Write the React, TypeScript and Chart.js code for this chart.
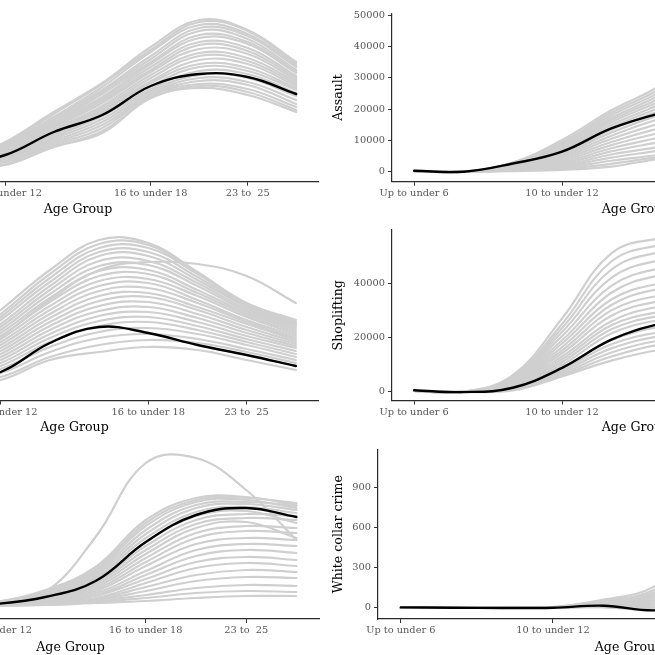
import React, { useEffect, useRef } from "react";
import { Chart, registerables } from "chart.js";

Chart.register(...registerables);

// ---------- categories ----------
const AGE_GROUPS = [
  "Up to under 6",
  "6 to under 8",
  "8 to under 10",
  "10 to under 12",
  "12 to under 14",
  "14 to under 16",
  "16 to under 18",
  "18 to under 21",
  "23 to  25",
  "25 to under 30",
];
const SHOWN_TICKS = [0, 3, 6, 8];

// ---------- top-left panel (y axis cut off) ----------
const TL_MEAN = [0, 2, 7, 17, 40, 57, 86, 98, 95, 78];
const TL_STATES = [
  [0, 2, 9, 30, 60, 89, 125, 152, 142, 110],
  [0, 2, 8, 28, 58, 88, 122, 150, 141, 108],
  [0, 2, 8, 27, 55, 85, 120, 147, 138, 106],
  [0, 2, 8, 26, 54, 82, 116, 144, 136, 105],
  [0, 2, 7, 25, 52, 80, 113, 141, 133, 102],
  [0, 2, 7, 24, 50, 78, 110, 137, 130, 100],
  [0, 2, 7, 23, 49, 75, 108, 134, 128, 99],
  [0, 2, 7, 22, 47, 73, 105, 130, 124, 96],
  [0, 2, 6, 21, 46, 71, 102, 127, 121, 94],
  [0, 2, 6, 21, 45, 69, 100, 123, 118, 92],
  [0, 1, 6, 20, 43, 66, 97, 119, 114, 90],
  [0, 1, 6, 19, 42, 64, 94, 116, 111, 88],
  [0, 1, 5, 18, 40, 62, 91, 112, 108, 86],
  [0, 1, 5, 17, 38, 60, 89, 108, 104, 84],
  [0, 1, 5, 16, 37, 58, 86, 105, 101, 82],
  [0, 1, 5, 15, 35, 56, 83, 101, 98, 79],
  [0, 1, 4, 14, 33, 53, 81, 97, 94, 76],
  [0, 1, 4, 13, 31, 50, 79, 94, 90, 72],
  [0, 1, 4, 11, 29, 47, 77, 91, 87, 68],
  [0, 1, 4, 10, 27, 44, 76, 88, 83, 65],
  [0, 1, 3, 8, 25, 41, 74, 86, 80, 62],
  [0, 1, 3, 7, 25, 39, 74, 84, 77, 60],
];

// ---------- middle-left panel ----------
const ML_MEAN = [2, 5, 10, 20, 49, 65, 59, 47, 37, 26];
const ML_STATES = [
  [3, 15, 45, 82, 122, 152, 149, 120, 89, 72],
  [3, 14, 42, 78, 118, 148, 147, 119, 88, 70],
  [3, 13, 40, 75, 114, 144, 144, 118, 88, 70],
  [3, 12, 38, 72, 110, 140, 140, 115, 86, 68],
  [2, 12, 36, 68, 106, 136, 136, 112, 85, 67],
  [2, 11, 34, 65, 102, 131, 131, 109, 83, 66],
  [2, 10, 32, 62, 98, 126, 127, 106, 81, 64],
  [2, 10, 30, 59, 94, 121, 122, 102, 79, 62],
  [2, 9, 28, 56, 90, 116, 118, 99, 77, 60],
  [2, 9, 26, 53, 86, 111, 113, 96, 75, 58],
  [2, 8, 24, 50, 82, 106, 109, 92, 72, 56],
  [2, 8, 22, 47, 78, 101, 104, 89, 70, 54],
  [2, 7, 21, 44, 74, 96, 99, 85, 68, 52],
  [1, 7, 19, 41, 70, 91, 95, 82, 65, 50],
  [1, 6, 17, 38, 66, 86, 90, 78, 62, 48],
  [1, 6, 16, 35, 62, 81, 85, 74, 59, 46],
  [1, 5, 14, 32, 58, 76, 80, 70, 56, 44],
  [1, 5, 13, 29, 54, 71, 75, 66, 53, 41],
  [1, 4, 11, 26, 50, 66, 70, 62, 50, 38],
  [1, 4, 10, 23, 45, 60, 64, 58, 47, 35],
  [1, 3, 8, 19, 40, 54, 58, 53, 43, 32],
  [1, 3, 7, 15, 35, 47, 52, 49, 40, 29],
  [1, 2, 5, 12, 32, 40, 45, 42, 32, 22],
  [2, 8, 24, 55, 92, 122, 130, 128, 116, 89],
];

// ---------- bottom-left panel ----------
const BL_MEAN = [0, 1, 2, 4, 11, 27, 66, 93, 100, 91];
const BL_STATES = [
  [0, 1, 2, 6, 18, 41, 88, 110, 111, 103],
  [0, 1, 2, 6, 17, 39, 85, 108, 110, 105],
  [0, 1, 2, 5, 16, 37, 82, 106, 108, 100],
  [0, 1, 2, 5, 15, 35, 78, 103, 106, 102],
  [0, 1, 2, 5, 15, 33, 74, 100, 104, 98],
  [0, 1, 2, 5, 14, 31, 70, 96, 101, 95],
  [0, 1, 2, 5, 13, 29, 66, 92, 97, 85],
  [0, 1, 2, 5, 13, 27, 62, 88, 94, 92],
  [0, 1, 2, 4, 12, 25, 58, 84, 90, 88],
  [0, 1, 2, 4, 11, 23, 54, 80, 86, 70],
  [0, 1, 2, 4, 11, 21, 50, 75, 82, 80],
  [0, 1, 2, 4, 10, 19, 46, 70, 77, 75],
  [0, 1, 2, 4, 9, 17, 42, 64, 70, 68],
  [0, 1, 2, 4, 9, 15, 37, 58, 64, 62],
  [0, 1, 2, 4, 8, 13, 33, 52, 58, 55],
  [0, 1, 2, 3, 7, 12, 29, 46, 51, 48],
  [0, 1, 2, 3, 7, 10, 25, 40, 45, 42],
  [0, 1, 2, 3, 6, 9, 21, 33, 38, 36],
  [0, 1, 2, 3, 5, 8, 17, 27, 31, 30],
  [0, 1, 2, 3, 5, 7, 13, 20, 23, 22],
  [0, 1, 2, 3, 4, 6, 10, 15, 17, 16],
  [0, 1, 2, 2, 3, 5, 7, 10, 12, 12],
  [0, 1, 2, 4, 16, 71, 145, 150, 118, 68],
];

// ---------- Assault ----------
const ASSAULT_TICKS = [0, 10000, 20000, 30000, 40000, 50000];
const ASSAULT_MEAN = [300, 0, 2600, 6400, 13800, 18700, 22000, 23500, 22500, 20000];
const ASSAULT_STATES = [
  [200, 0, 2900, 10100, 19600, 27600, 40000, 49000, 47000, 40000],
  [200, 0, 2800, 9500, 18800, 26500, 37000, 45000, 44000, 38000],
  [200, 0, 2700, 9000, 18000, 25500, 35000, 42000, 41000, 36000],
  [200, 0, 2600, 8500, 17200, 24500, 33000, 39000, 38000, 34000],
  [200, 0, 2500, 8000, 16500, 23500, 31000, 36000, 35000, 31000],
  [200, 0, 2400, 7500, 15800, 22500, 29000, 33000, 32000, 29000],
  [200, 0, 2200, 7000, 15000, 21500, 27500, 31000, 30000, 27000],
  [200, 0, 2000, 6500, 14200, 20500, 26000, 29000, 28000, 25000],
  [200, 0, 1900, 6000, 13400, 19500, 24500, 27000, 26000, 23500],
  [200, 0, 1700, 5500, 12500, 18300, 23000, 25000, 24500, 22000],
  [200, 0, 1500, 5000, 11500, 17000, 21000, 23000, 22500, 20000],
  [200, 0, 1300, 4500, 10500, 15500, 19500, 21000, 20500, 18500],
  [200, 0, 1200, 4000, 9500, 14000, 17500, 19000, 18500, 17000],
  [200, 0, 1000, 3500, 8500, 12500, 16000, 17500, 17000, 15500],
  [200, 0, 900, 3000, 7500, 11000, 14500, 16000, 15500, 14000],
  [200, 0, 800, 2500, 6500, 9500, 12500, 14000, 13500, 12500],
  [200, 0, 600, 2000, 5500, 8000, 11000, 12500, 12000, 11000],
  [200, 0, 500, 1600, 4500, 6800, 9500, 11000, 10500, 9500],
  [200, 0, 400, 1200, 3500, 5500, 8000, 9000, 9000, 8000],
  [200, 0, 300, 900, 2500, 4800, 6500, 7500, 7500, 7000],
  [200, 0, 200, 600, 1600, 4200, 5500, 6500, 6500, 6000],
];

// ---------- Shoplifting ----------
const SHOP_TICKS = [0, 20000, 40000];
const SHOP_MEAN = [600, -100, 1500, 8800, 19200, 25100, 28000, 28500, 27000, 24000];
const SHOP_STATES = [
  [300, 0, 6100, 27000, 51000, 56500, 57000, 54000, 50000, 45000],
  [300, 0, 5700, 25000, 48000, 54000, 55000, 52000, 48000, 43000],
  [300, 0, 5400, 23500, 45000, 51500, 52500, 50000, 46000, 41000],
  [300, 0, 5100, 22000, 42000, 48500, 50000, 47500, 44000, 39000],
  [300, 0, 4800, 20500, 39000, 45500, 47000, 45000, 42000, 37000],
  [300, 0, 4500, 19000, 36500, 43000, 44500, 42500, 40000, 35500],
  [300, 0, 4200, 17800, 34000, 40000, 42000, 40000, 37500, 33500],
  [300, 0, 4000, 16500, 32000, 38000, 39500, 38000, 35500, 32000],
  [300, 0, 3700, 15300, 30000, 35500, 37000, 35500, 33500, 30000],
  [300, 0, 3400, 14200, 28000, 33500, 35000, 33500, 31500, 28500],
  [300, 0, 3100, 13000, 26000, 31500, 33000, 31500, 29500, 27000],
  [300, 0, 2800, 12000, 24500, 29500, 31000, 29500, 28000, 25500],
  [300, 0, 2600, 11000, 23000, 28000, 29500, 28000, 26500, 24000],
  [300, 0, 2300, 10000, 21500, 26500, 28000, 26500, 25000, 22500],
  [300, 0, 2000, 9000, 19000, 24000, 25500, 24500, 23000, 21000],
  [300, 0, 1700, 8200, 17500, 22000, 23500, 22500, 21000, 19000],
  [300, 0, 1400, 7500, 16000, 20500, 22000, 21000, 19500, 18000],
  [300, 0, 1100, 6800, 14500, 19000, 20500, 19500, 18500, 17000],
  [300, 0, 800, 6200, 13000, 17500, 19000, 18500, 17500, 16000],
  [300, 0, 500, 5700, 11500, 15500, 17000, 16500, 15500, 14500],
];

// ---------- White collar crime ----------
const WCC_TICKS = [0, 300, 600, 900];
const WCC_MEAN = [2, 0, -2, 0, 15, -20, 30, 80, 100, 90];
const WCC_STATES = [
  [0, 0, 0, 5, 60, 160, 500, 1000, 1130, 900],
  [0, 0, 0, 4, 52, 135, 420, 800, 900, 800],
  [0, 0, 0, 4, 45, 115, 350, 650, 750, 700],
  [0, 0, 0, 3, 40, 100, 300, 550, 620, 600],
  [0, 0, 0, 3, 35, 85, 250, 450, 520, 500],
  [0, 0, 0, 3, 30, 70, 200, 370, 430, 420],
  [0, 0, 0, 2, 25, 55, 160, 300, 350, 340],
  [0, 0, 0, 2, 20, 40, 120, 230, 280, 270],
  [0, 0, 0, 2, 15, 25, 90, 170, 210, 200],
  [0, 0, 0, 1, 10, 10, 60, 120, 150, 150],
  [0, 0, 0, 1, 5, 0, 40, 80, 100, 100],
  [0, 0, 0, 1, 2, -15, 20, 50, 60, 60],
];

const FONT = "'DejaVu Serif', serif";
const GRAY = "#cfcfcf";

type PanelProps = {
  plotLeft: number;
  plotRight: number;
  rowTop: number;
  plotTop: number;
  plotBottom: number;
  titleCenter: number;
  yWidth: number; // 0 = y axis hidden (cut off)
  yTitle?: string;
  yTicks?: number[];
  yMin: number;
  yMax: number;
  mean: number[];
  states: number[][];
};

function Panel(p: PanelProps) {
  const ref = useRef<HTMLCanvasElement | null>(null);
  const padLeft = p.yWidth > 0 ? 0 : 40;
  const canvasLeft = p.plotLeft - (p.yWidth > 0 ? p.yWidth : padLeft);
  const canvasRight = p.plotRight + 10;
  const width = Math.round(canvasRight - canvasLeft);
  const height = 225;
  const canvasBottom = p.rowTop + height;
  const xHeight = canvasBottom - p.plotBottom;
  const titleSize = 12.6;
  const titleLH = titleSize * 1.2;
  const titlePadBottom = Math.max(0, canvasBottom - p.titleCenter - titleLH / 2);

  useEffect(() => {
    if (!ref.current) return;
    const toPts = (arr: number[]) => arr.map((v, i) => ({ x: i, y: v }));
    const datasets: any[] = [
      {
        data: toPts(p.mean),
        borderColor: "#000000",
        borderWidth: 2.4,
      },
      ...p.states.map((s) => ({
        data: toPts(s),
        borderColor: GRAY,
        borderWidth: 2.2,
      })),
    ];
    const chart = new Chart(ref.current, {
      type: "line",
      data: { datasets },
      options: {
        animation: false,
        responsive: false,
        maintainAspectRatio: false,
        events: [],
        parsing: false as any,
        layout: {
          padding: {
            left: padLeft,
            right: 10,
            top: p.plotTop - p.rowTop,
            bottom: 0,
          },
        },
        elements: {
          point: { radius: 0 },
          line: { tension: 0.4, borderCapStyle: "round" },
        },
        plugins: {
          legend: { display: false },
          tooltip: { enabled: false },
        },
        scales: {
          x: {
            type: "linear",
            min: -0.45,
            max: 9.45,
            afterBuildTicks: (s: any) => {
              s.ticks = SHOWN_TICKS.map((v) => ({ value: v }));
            },
            afterFit: (s: any) => {
              s.height = xHeight;
            },
            ticks: {
              autoSkip: false,
              maxRotation: 0,
              padding: 2,
              color: "#555555",
              font: { family: FONT, size: 9.8 },
              callback: (v: any) => AGE_GROUPS[Math.round(Number(v))],
            },
            grid: {
              drawOnChartArea: false,
              drawTicks: true,
              tickLength: 4,
              color: "#333333",
              lineWidth: 1,
            },
            border: { display: true, color: "#2a2a2a", width: 1.2 },
            title: {
              display: true,
              text: "Age Group",
              color: "#000000",
              font: { family: FONT, size: titleSize },
              padding: { top: 0, bottom: titlePadBottom },
            },
          },
          y: {
            type: "linear",
            display: p.yWidth > 0,
            min: p.yMin,
            max: p.yMax,
            afterBuildTicks: (s: any) => {
              if (p.yTicks) s.ticks = p.yTicks.map((v) => ({ value: v }));
            },
            afterFit: (s: any) => {
              s.width = p.yWidth;
            },
            ticks: {
              autoSkip: false,
              padding: 3,
              color: "#555555",
              font: { family: FONT, size: 9.8 },
              callback: (v: any) => String(v),
            },
            grid: {
              drawOnChartArea: false,
              drawTicks: true,
              tickLength: 4,
              color: "#333333",
              lineWidth: 1,
            },
            border: { display: true, color: "#2a2a2a", width: 1.2 },
            title: {
              display: !!p.yTitle,
              text: p.yTitle || "",
              color: "#000000",
              font: { family: FONT, size: titleSize },
              padding: { top: 1.4, bottom: 0 },
            },
          },
        },
      } as any,
    });
    return () => chart.destroy();
  }, []);

  return (
    <div
      style={{
        position: "absolute",
        left: canvasLeft,
        top: p.rowTop,
        width,
        height,
      }}
    >
      <canvas
        ref={ref}
        width={width}
        height={height}
        style={{ display: "block", width, height }}
      />
    </div>
  );
}

export default function App() {
  return (
    <div
      style={{
        position: "fixed",
        left: 0,
        top: 0,
        width: 655,
        height: 655,
        overflow: "hidden",
        background: "#ffffff",
      }}
    >
      <Panel
        plotLeft={-161.8}
        plotRight={318.3}
        rowTop={0}
        plotTop={13.3}
        plotBottom={181.7}
        titleCenter={209.5}
        yWidth={0}
        yMin={-9.7}
        yMax={158.7}
        mean={TL_MEAN}
        states={TL_STATES}
      />
      <Panel
        plotLeft={391.8}
        plotRight={880}
        rowTop={0}
        plotTop={13.3}
        plotBottom={181.7}
        titleCenter={209.5}
        yWidth={62}
        yTitle="Assault"
        yTicks={ASSAULT_TICKS}
        yMin={-3200}
        yMax={50600}
        mean={ASSAULT_MEAN}
        states={ASSAULT_STATES}
      />
      <Panel
        plotLeft={-169}
        plotRight={318}
        rowTop={220}
        plotTop={230}
        plotBottom={400.5}
        titleCenter={428}
        yWidth={0}
        yMin={-8.5}
        yMax={162}
        mean={ML_MEAN}
        states={ML_STATES}
      />
      <Panel
        plotLeft={391.8}
        plotRight={880}
        rowTop={220}
        plotTop={230}
        plotBottom={400.5}
        titleCenter={428}
        yWidth={62}
        yTitle="Shoplifting"
        yTicks={SHOP_TICKS}
        yMin={-3200}
        yMax={59600}
        mean={SHOP_MEAN}
        states={SHOP_STATES}
      />
      <Panel
        plotLeft={-177.8}
        plotRight={318.7}
        rowTop={440}
        plotTop={449.3}
        plotBottom={619}
        titleCenter={647.5}
        yWidth={0}
        yMin={-11}
        yMax={158.7}
        mean={BL_MEAN}
        states={BL_STATES}
      />
      <Panel
        plotLeft={378}
        plotRight={879.5}
        rowTop={440}
        plotTop={449.3}
        plotBottom={619}
        titleCenter={647.5}
        yWidth={48}
        yTitle="White collar crime"
        yTicks={WCC_TICKS}
        yMin={-85}
        yMax={1190}
        mean={WCC_MEAN}
        states={WCC_STATES}
      />
    </div>
  );
}
